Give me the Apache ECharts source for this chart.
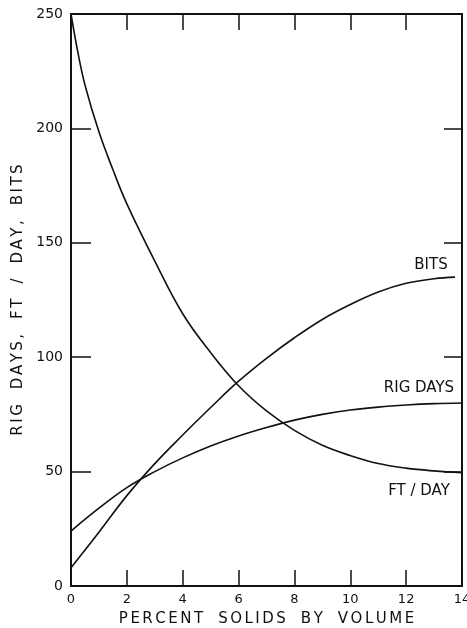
<!DOCTYPE html>
<html>
<head>
<meta charset="utf-8">
<script src="https://cdn.jsdelivr.net/npm/echarts@6/dist/echarts.min.js"></script>
<style>
  html, body { margin: 0; padding: 0; background: #fff; }
  #chart { width: 467px; height: 628px; }
</style>
</head>
<body>
<div id="chart"></div>
<script>
// Percent solids by volume (x positions of the sampled points)
const solids = [0, 0.25, 0.5, 1, 1.5, 2, 3, 4, 5, 6, 7, 8, 9, 10, 11, 12, 13, 14];

// Drilling rate, feet per day
const ftPerDay = [250, 233, 219, 198.5, 182, 167, 142, 119, 102, 87.5, 76.5, 68, 61.5, 57, 53.5, 51.5, 50.3, 49.5];

// Rig days
const rigX = [0, 1, 2, 3, 4, 5, 6, 7, 8, 9, 10, 11, 12, 13, 14];
const rigDays = [24, 34, 43, 50, 56, 61.2, 65.6, 69.3, 72.5, 75, 76.9, 78.2, 79.1, 79.7, 80];

// Bits used (curve stops just short of 14 %)
const bitsX = [0, 1, 2, 3, 4, 5, 6, 7, 8, 9, 10, 11, 12, 13, 13.75];
const bits = [8, 23.5, 39.5, 53.5, 66, 78, 89.5, 99.5, 108.5, 116.5, 123, 128.5, 132.3, 134.3, 135];

const xTicks = [0, 2, 4, 6, 8, 10, 12, 14];
const yTicks = [0, 50, 100, 150, 200, 250];

const curveNames = ['FT / DAY', 'RIG DAYS', 'BITS'];
// Where each curve's name is lettered, in data units
const nameSpots = [[12.46, 41.5], [12.46, 86.5], [12.89, 140.3]];

const xTitle = ['PERCENT', 'SOLIDS', 'BY', 'VOLUME'];
const yTitle = ['RIG', 'DAYS,', 'FT', '/', 'DAY,', 'BITS'];

const font = 'DejaVu Sans';
const ink = '#111';

// spread capitals apart like stencil lettering
function spaced(words) {
  return words.map(w => w.split('').join('\u2006')).join('\u2002\u2002');
}
function pairs(xs, ys) { return xs.map((x, i) => [x, ys[i]]); }

function curve(name, data, spot) {
  return {
    name: name,
    type: 'line',
    data: data,
    smooth: 0.4,
    showSymbol: false,
    symbol: 'none',
    lineStyle: { color: ink, width: 1.6 },
    markPoint: {
      symbol: 'circle',
      symbolSize: 0,
      data: [{ coord: spot }],
      label: {
        show: true,
        position: 'inside',
        formatter: name,
        color: ink,
        fontFamily: font,
        fontSize: 15
      }
    },
    z: 3
  };
}

function frameAxis(extra) {
  return Object.assign({
    type: 'value',
    axisLine: { show: true, onZero: false, lineStyle: { color: ink, width: 2 } },
    splitLine: { show: false }
  }, extra);
}

const chart = echarts.init(document.getElementById('chart'));
chart.setOption({
  animation: false,
  backgroundColor: '#fff',
  grid: { left: 71, right: 5, top: 14, bottom: 42, containLabel: false, outerBoundsMode: 'none' },
  xAxis: [
    frameAxis({
      position: 'bottom',
      min: xTicks[0], max: xTicks[xTicks.length - 1], interval: 2,
      axisTick: { show: true, inside: true, length: 16, lineStyle: { color: ink, width: 1.5 } },
      axisLabel: { color: ink, fontFamily: font, fontSize: 13, margin: 7 },
      name: spaced(xTitle),
      nameLocation: 'middle', nameGap: 26,
      nameTextStyle: { color: ink, fontFamily: font, fontSize: 15 }
    }),
    frameAxis({
      position: 'top',
      min: xTicks[0], max: xTicks[xTicks.length - 1], interval: 2,
      axisTick: { show: true, inside: true, length: 16, lineStyle: { color: ink, width: 1.5 } },
      axisLabel: { show: false }
    })
  ],
  yAxis: [
    frameAxis({
      position: 'left',
      min: yTicks[0], max: yTicks[yTicks.length - 1], interval: 50,
      axisTick: { show: true, inside: true, length: 20, lineStyle: { color: ink, width: 1.5 } },
      axisLabel: { color: ink, fontFamily: font, fontSize: 14, margin: 8 },
      name: spaced(yTitle),
      nameLocation: 'middle', nameGap: 42,
      nameTextStyle: { color: ink, fontFamily: font, fontSize: 15 }
    }),
    frameAxis({
      position: 'right',
      min: yTicks[0], max: yTicks[yTicks.length - 1], interval: 50,
      axisTick: { show: true, inside: true, length: 18, lineStyle: { color: ink, width: 1.5 } },
      axisLabel: { show: false }
    })
  ],
  series: [
    curve(curveNames[0], pairs(solids, ftPerDay), nameSpots[0]),
    curve(curveNames[1], pairs(rigX, rigDays), nameSpots[1]),
    curve(curveNames[2], pairs(bitsX, bits), nameSpots[2])
  ]
});
</script>
</body>
</html>
